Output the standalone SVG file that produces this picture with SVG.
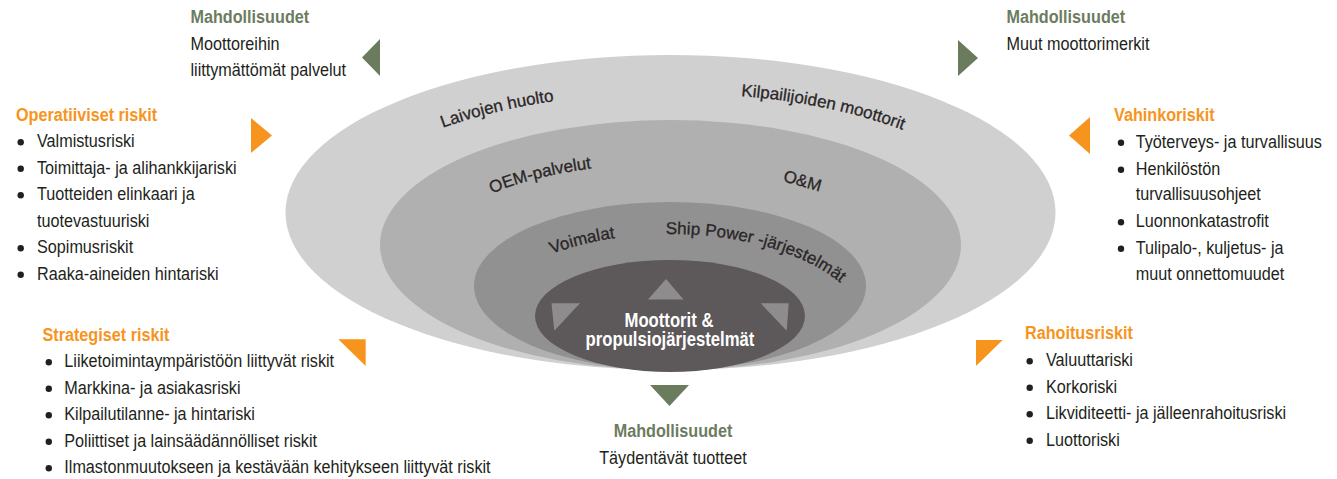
<svg xmlns="http://www.w3.org/2000/svg" width="1337" height="479" viewBox="0 0 1337 479">
<style>
text{font-family:'Liberation Sans',Arial,Helvetica,sans-serif}
.ho{font-weight:bold;font-size:16.2px;fill:#f7941d}
.hg{font-weight:bold;font-size:16.2px;fill:#6c7c5f}
.b{font-size:16.2px;fill:#231f20}
.arc{font-size:17px;fill:#2a2627;stroke:#2a2627;stroke-width:0.3px}
.core{font-weight:bold;font-size:16.7px;fill:#ffffff;text-anchor:middle}
.dot{fill:#231f20}
.ao{fill:#f7941d}
.ag{fill:#6b7b5e}
.it{fill:#8e8c8d}
</style>
<defs>
<path id="p1" d="M443,127.8 A330,127 0 0 1 670,93"/>
<path id="p2" d="M741,96 A330,127 0 0 1 1000,220"/>
<path id="p3" d="M492,193.4 A240,91 0 0 1 670,163.4"/>
<path id="p4" d="M552,253.8 A200,103 0 0 1 670,234"/>
<path id="p5" d="M666,234 A200,103 0 0 1 870,337"/>
</defs>

<g id="rings">
<ellipse cx="670.5" cy="212.5" rx="385" ry="157.5" fill="#d1d0d1"/>
<ellipse cx="670.5" cy="245" rx="290.5" ry="125" fill="#b1b0b0"/>
<ellipse cx="670" cy="286" rx="196" ry="84" fill="#929191"/>
<text class="arc"><textPath href="#p1">Laivojen huolto</textPath></text>
<text class="arc" font-size="17.5"><textPath href="#p2">Kilpailijoiden moottorit</textPath></text>
<text class="arc"><textPath href="#p3">OEM-palvelut</textPath></text>
<text class="arc" text-anchor="middle" transform="rotate(16 801 186.3)" x="801" y="186.3">O&amp;M</text>
<text class="arc" font-size="16.5"><textPath href="#p4">Voimalat</textPath></text>
<text class="arc" font-size="17.5"><textPath href="#p5">Ship Power -järjestelmät</textPath></text>
</g>

<g id="core">
<ellipse cx="670" cy="316" rx="135" ry="56" fill="#5d5859"/>
<polygon class="it" points="648,299.5 683.5,299.5 666,279"/>
<polygon class="it" points="551.5,303.3 580,303.3 554.3,330.7"/>
<polygon class="it" points="760.7,303.3 788.7,303.3 786.7,330.7"/>
<text class="core" x="669" y="327.5" transform="matrix(1 0 0 1.18 0 -58.95)">Moottorit &amp;</text>
<text class="core" x="670" y="346.5" transform="matrix(1 0 0 1.18 0 -62.37)">propulsiojärjestelmät</text>
</g>

<g id="arrows">
<polygon class="ag" points="380,39 380,76 362,57.5"/>
<polygon class="ag" points="958,40 958,76 978,58"/>
<polygon class="ao" points="251,118 251,153 272,135.5"/>
<polygon class="ao" points="1090,117 1090,154 1069,135.5"/>
<polygon class="ao" points="338.3,339.3 365.7,339.3 365.7,366"/>
<polygon class="ao" points="976,340 1002.7,340 976,366"/>
<polygon class="ag" points="650,385 689,385 669.5,406"/>
</g>

<g id="opp-top-left">
<text class="hg" x="190.5" y="23" transform="matrix(1 0 0 1.13 0 -2.99)">Mahdollisuudet</text>
<text class="b" x="190.5" y="50" transform="matrix(1 0 0 1.13 0 -6.5)">Moottoreihin</text>
<text class="b" x="190.5" y="76.5" transform="matrix(1 0 0 1.13 0 -9.945)">liittymättömät palvelut</text>
</g>

<g id="opp-top-right">
<text class="hg" x="1006.5" y="23" transform="matrix(1 0 0 1.13 0 -2.99)">Mahdollisuudet</text>
<text class="b" x="1006.5" y="50" transform="matrix(1 0 0 1.13 0 -6.5)">Muut moottorimerkit</text>
</g>

<g id="operational-risks">
<text class="ho" x="16" y="121" transform="matrix(1 0 0 1.13 0 -15.73)">Operatiiviset riskit</text>
<circle class="dot" cx="20.7" cy="142.2" r="3.2"/>
<circle class="dot" cx="20.7" cy="168.7" r="3.2"/>
<circle class="dot" cx="20.7" cy="195.2" r="3.2"/>
<circle class="dot" cx="20.7" cy="248.2" r="3.2"/>
<circle class="dot" cx="20.7" cy="274.7" r="3.2"/>
<text class="b" x="37" y="147.5" transform="matrix(1 0 0 1.13 0 -19.175)">Valmistusriski</text>
<text class="b" x="37" y="174" transform="matrix(1 0 0 1.13 0 -22.62)">Toimittaja- ja alihankkijariski</text>
<text class="b" x="37" y="200.5" transform="matrix(1 0 0 1.13 0 -26.065)">Tuotteiden elinkaari ja</text>
<text class="b" x="37" y="227" transform="matrix(1 0 0 1.13 0 -29.51)">tuotevastuuriski</text>
<text class="b" x="37" y="253.5" transform="matrix(1 0 0 1.13 0 -32.955)">Sopimusriskit</text>
<text class="b" x="37" y="280" transform="matrix(1 0 0 1.13 0 -36.4)">Raaka-aineiden hintariski</text>
</g>

<g id="damage-risks">
<text class="ho" x="1114" y="121" transform="matrix(1 0 0 1.13 0 -15.73)">Vahinkoriskit</text>
<circle class="dot" cx="1121" cy="142.7" r="3.2"/>
<circle class="dot" cx="1121" cy="169.7" r="3.2"/>
<circle class="dot" cx="1121" cy="222.2" r="3.2"/>
<circle class="dot" cx="1121" cy="248.7" r="3.2"/>
<text class="b" x="1135.7" y="148" transform="matrix(1 0 0 1.13 0 -19.24)">Työterveys- ja turvallisuus</text>
<text class="b" x="1135.7" y="175" transform="matrix(1 0 0 1.13 0 -22.75)">Henkilöstön</text>
<text class="b" x="1135.7" y="200.5" transform="matrix(1 0 0 1.13 0 -26.065)">turvallisuusohjeet</text>
<text class="b" x="1135.7" y="227.5" transform="matrix(1 0 0 1.13 0 -29.575)">Luonnonkatastrofit</text>
<text class="b" x="1135.7" y="254" transform="matrix(1 0 0 1.13 0 -33.02)">Tulipalo-, kuljetus- ja</text>
<text class="b" x="1135.7" y="280.5" transform="matrix(1 0 0 1.13 0 -36.465)">muut onnettomuudet</text>
</g>

<g id="strategic-risks">
<text class="ho" x="42.5" y="341.5" transform="matrix(1 0 0 1.13 0 -44.395)">Strategiset riskit</text>
<circle class="dot" cx="48.8" cy="362.2" r="3.2"/>
<circle class="dot" cx="48.8" cy="388.7" r="3.2"/>
<circle class="dot" cx="48.8" cy="415.2" r="3.2"/>
<circle class="dot" cx="48.8" cy="441.7" r="3.2"/>
<circle class="dot" cx="48.8" cy="468.2" r="3.2"/>
<text class="b" x="64.3" y="367.5" transform="matrix(1 0 0 1.13 0 -47.775)">Liiketoimintaympäristöön liittyvät riskit</text>
<text class="b" x="64.3" y="394" transform="matrix(1 0 0 1.13 0 -51.22)">Markkina- ja asiakasriski</text>
<text class="b" x="64.3" y="420.5" transform="matrix(1 0 0 1.13 0 -54.665)">Kilpailutilanne- ja hintariski</text>
<text class="b" x="64.3" y="447" transform="matrix(1 0 0 1.13 0 -58.11)">Poliittiset ja lainsäädännölliset riskit</text>
<text class="b" x="64.3" y="473.5" transform="matrix(1 0 0 1.13 0 -61.555)">Ilmastonmuutokseen ja kestävään kehitykseen liittyvät riskit</text>
</g>

<g id="financial-risks">
<text class="ho" x="1025" y="339.5" transform="matrix(1 0 0 1.13 0 -44.135)">Rahoitusriskit</text>
<circle class="dot" cx="1029.7" cy="361.2" r="3.2"/>
<circle class="dot" cx="1029.7" cy="387.7" r="3.2"/>
<circle class="dot" cx="1029.7" cy="414.2" r="3.2"/>
<circle class="dot" cx="1029.7" cy="440.7" r="3.2"/>
<text class="b" x="1046" y="366.5" transform="matrix(1 0 0 1.13 0 -47.645)">Valuuttariski</text>
<text class="b" x="1046" y="393" transform="matrix(1 0 0 1.13 0 -51.09)">Korkoriski</text>
<text class="b" x="1046" y="419.5" transform="matrix(1 0 0 1.13 0 -54.535)">Likviditeetti- ja jälleenrahoitusriski</text>
<text class="b" x="1046" y="446" transform="matrix(1 0 0 1.13 0 -57.98)">Luottoriski</text>
</g>

<g id="opp-bottom">
<text class="hg" x="673" y="437" text-anchor="middle" transform="matrix(1 0 0 1.13 0 -56.81)">Mahdollisuudet</text>
<text class="b" x="673" y="464" text-anchor="middle" transform="matrix(1 0 0 1.13 0 -60.32)">Täydentävät tuotteet</text>
</g>
</svg>
